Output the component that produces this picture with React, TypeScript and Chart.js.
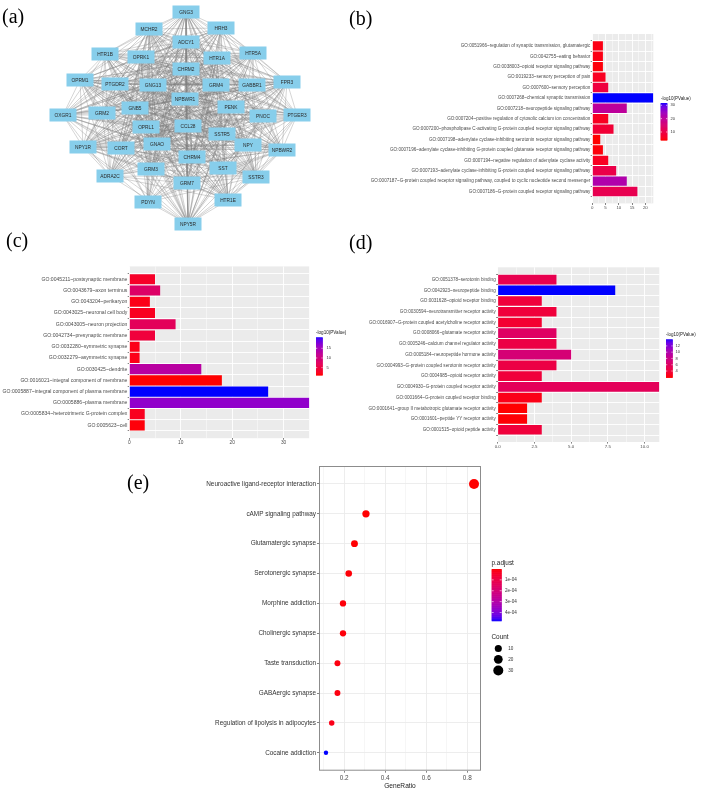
import React, { useEffect, useRef } from "react";
import { Chart, registerables } from "chart.js";
Chart.register(...registerables);

const FONT = "'Liberation Sans', Arial, Helvetica, sans-serif";

// ---------------- (a) network ----------------
const netNodes = ["GNG3","MCHR2","HRH3","ADCY1","HTR1B","OPRK1","HTR1A","HTR5A","CHRM2","OPRM1","PTGDR2","GNG13","GRM4","GABBR1","FPR3","NPBWR1","OXGR1","GRM2","GNB5","PENK","PNOC","PTGER3","OPRL1","CCL28","SSTR5","NPY1R","CORT","GNAO","NPY","NPBWR2","CHRM4","GRM3","SST","ADRA2C","SSTR3","GRM7","PDYN","HTR1E","NPY5R"];
const netX = [186,149,221,186,105,141,217,253,186,80,115,153,216,252,287,185,63,102,135,231,263,297,146,188,222,83,121,157,248,282,192,151,223,110,256,187,148,228,188];
const netY = [12,29,28,42,54,57,58,53,69,80,84,85,85,85,82,99,115,113,108,107,116,115,127,126,134,147,148,144,145,150,157,169,168,176,177,183,202,200,224];
const netGroupPeptide = ["OPRM1","OPRK1","OPRL1","PENK","PDYN","PNOC","NPY","NPY1R","NPY5R","SST","SSTR3","SSTR5","CORT","NPBWR1","NPBWR2","MCHR2","CCL28","FPR3","GNAO","GNB5","GNG3","GNG13","ADCY1"];
const netGroupAmine = ["HTR1A","HTR1B","HTR1E","HTR5A","HRH3","CHRM2","CHRM4","ADRA2C","GRM2","GRM3","GRM4","GRM7","GABBR1","PTGDR2","PTGER3","OXGR1","GNAO","GNB5","GNG3","GNG13","ADCY1"];
const netGroupGi = ["OPRM1","OPRK1","OPRL1","NPY1R","NPY5R","SSTR3","SSTR5","NPBWR1","NPBWR2","HTR1A","HTR1B","HTR1E","HTR5A","HRH3","CHRM2","CHRM4","ADRA2C","GRM2","GRM3","GRM4","GRM7","GABBR1","PTGER3","MCHR2","FPR3","OXGR1","PTGDR2"];
const netGroups = [netGroupPeptide, netGroupAmine, netGroupGi];

// ---------------- (b) biological process ----------------
const bTerms = [
  "GO:0051966~regulation of synaptic transmission, glutamatergic",
  "GO:0042755~eating behavior",
  "GO:0038003~opioid receptor signaling pathway",
  "GO:0019233~sensory perception of pain",
  "GO:0007600~sensory perception",
  "GO:0007268~chemical synaptic transmission",
  "GO:0007218~neuropeptide signaling pathway",
  "GO:0007204~positive regulation of cytosolic calcium ion concentration",
  "GO:0007200~phospholipase C-activating G-protein coupled receptor signaling pathway",
  "GO:0007198~adenylate cyclase-inhibiting serotonin receptor signaling pathway",
  "GO:0007196~adenylate cyclase-inhibiting G-protein coupled glutamate receptor signaling pathway",
  "GO:0007194~negative regulation of adenylate cyclase activity",
  "GO:0007193~adenylate cyclase-inhibiting G-protein coupled receptor signaling pathway",
  "GO:0007187~G-protein coupled receptor signaling pathway, coupled to cyclic nucleotide second messenger",
  "GO:0007186~G-protein coupled receptor signaling pathway",
];
const bCounts = [4,4,4,5,6,23,13,6,8,3,4,6,9,13,17];
const bLogP = [5,5,4.5,6,9,31.7,20,6,8,4,4.5,6,10,22,11];
const bMajorTicks = [0,5,10,15,20];
const bMinorTicks = [2.5,7.5,12.5,17.5,22.5];
const bLegendTicks = [10,20,30];

// ---------------- (c) cellular component ----------------
const cTerms = [
  "GO:0045211~postsynaptic membrane",
  "GO:0043679~axon terminus",
  "GO:0043204~perikaryon",
  "GO:0043025~neuronal cell body",
  "GO:0043005~neuron projection",
  "GO:0042734~presynaptic membrane",
  "GO:0032280~symmetric synapse",
  "GO:0032279~asymmetric synapse",
  "GO:0030425~dendrite",
  "GO:0016021~integral component of membrane",
  "GO:0005887~integral component of plasma membrane",
  "GO:0005886~plasma membrane",
  "GO:0005834~heterotrimeric G-protein complex",
  "GO:0005623~cell",
];
const cCounts = [5,6,4,5,9,5,2,2,14,18,27,35,3,3];
const cLogP = [3,8,2,2.5,7,4.5,2,2,13,1.2,20.7,16.5,2.5,1.5];
const cMajorTicks = [0,10,20,30];
const cMinorTicks = [5,15,25,35];
const cLegendTicks = [5,10,15];

// ---------------- (d) molecular function ----------------
const dTerms = [
  "GO:0051378~serotonin binding",
  "GO:0042923~neuropeptide binding",
  "GO:0031628~opioid receptor binding",
  "GO:0030594~neurotransmitter receptor activity",
  "GO:0016907~G-protein coupled acetylcholine receptor activity",
  "GO:0008066~glutamate receptor activity",
  "GO:0005246~calcium channel regulator activity",
  "GO:0005184~neuropeptide hormone activity",
  "GO:0004993~G-protein coupled serotonin receptor activity",
  "GO:0004985~opioid receptor activity",
  "GO:0004930~G-protein coupled receptor activity",
  "GO:0001664~G-protein coupled receptor binding",
  "GO:0001641~group II metabotropic glutamate receptor activity",
  "GO:0001601~peptide YY receptor activity",
  "GO:0001515~opioid peptide activity",
];
const dCounts = [4,8,3,4,3,4,4,5,4,3,11,3,2,2,3];
const dLogP = [5,14.1,4,4,3.5,6,4.5,7,4.5,4,5.5,2.5,2,2.1,4];
const dMajorTicks = [0,2.5,5,7.5,10];
const dMinorTicks = [1.25,3.75,6.25,8.75];
const dLegendTicks = [4,6,8,10,12];

// ---------------- (e) KEGG dot plot ----------------
const eTerms = [
  "Neuroactive ligand-receptor interaction",
  "cAMP signaling pathway",
  "Glutamatergic synapse",
  "Serotonergic synapse",
  "Morphine addiction",
  "Cholinergic synapse",
  "Taste transduction",
  "GABAergic synapse",
  "Regulation of lipolysis in adipocytes",
  "Cocaine addiction",
];
const eGeneRatio = [0.833,0.306,0.25,0.222,0.194,0.194,0.167,0.167,0.139,0.111];
const eCount = [30,11,9,8,7,7,6,6,5,4];
const ePAdjust = [3.2e-19,1.5e-6,2.4e-6,5e-6,8e-6,8e-6,1.2e-5,1.2e-5,2.1e-5,4.75e-4];
const eMajorTicks = [0.2,0.4,0.6,0.8];
const eMinorTicks = [0.1,0.3,0.5,0.7];
const ePAdjTicks = [1e-4,2e-4,3e-4,4e-4];
const ePAdjTickLabels = ["1e-04","2e-04","3e-04","4e-04"];
const eCountLegend = [10,20,30];

// ---------------- colour ramp (CIELAB, red -> blue) ----------------
function toLin(c: number) { const v = c / 255; return v <= 0.04045 ? v / 12.92 : Math.pow((v + 0.055) / 1.055, 2.4); }
function fromLin(v: number) { const c = v <= 0.0031308 ? 12.92 * v : 1.055 * Math.pow(Math.max(v, 0), 1 / 2.4) - 0.055; return Math.round(Math.max(0, Math.min(1, c)) * 255); }
const WX = 0.95047, WZ = 1.08883;
function fLab(t: number) { return t > 0.008856 ? Math.cbrt(t) : 7.787 * t + 16 / 116; }
function fInv(t: number) { const t3 = t * t * t; return t3 > 0.008856 ? t3 : (t - 16 / 116) / 7.787; }
function rgb2lab(rgb: number[]) {
  const R = toLin(rgb[0]), G = toLin(rgb[1]), B = toLin(rgb[2]);
  const X = 0.4124564 * R + 0.3575761 * G + 0.1804375 * B;
  const Y = 0.2126729 * R + 0.7151522 * G + 0.072175 * B;
  const Z = 0.0193339 * R + 0.119192 * G + 0.9503041 * B;
  const fx = fLab(X / WX), fy = fLab(Y), fz = fLab(Z / WZ);
  return [116 * fy - 16, 500 * (fx - fy), 200 * (fy - fz)];
}
function lab2rgb(lab: number[]) {
  const fy = (lab[0] + 16) / 116, fx = fy + lab[1] / 500, fz = fy - lab[2] / 200;
  const X = WX * fInv(fx), Y = fInv(fy), Z = WZ * fInv(fz);
  const R = 3.2404542 * X - 1.5371385 * Y - 0.4985314 * Z;
  const G = -0.969266 * X + 1.8760108 * Y + 0.041556 * Z;
  const B = 0.0556434 * X - 0.2040259 * Y + 1.0572252 * Z;
  return [fromLin(R), fromLin(G), fromLin(B)];
}
const LAB_LO = rgb2lab([255, 0, 0]);
const LAB_HI = rgb2lab([0, 0, 255]);
function ramp(t: number) {
  const u = Math.max(0, Math.min(1, t));
  const c = lab2rgb([0, 1, 2].map((k) => LAB_LO[k] + (LAB_HI[k] - LAB_LO[k]) * u));
  return `rgb(${c[0]},${c[1]},${c[2]})`;
}
function drawColorbar(ctx: CanvasRenderingContext2D, x: number, top: number, w: number, h: number, topIsHigh: boolean) {
  const n = 80;
  for (let i = 0; i < n; i++) {
    const t = (i + 0.5) / n;
    ctx.fillStyle = ramp(topIsHigh ? 1 - t : t);
    ctx.fillRect(x, top + (h * i) / n, w, h / n + 0.6);
  }
}

type Rect = { x: number; y: number; w: number; h: number };
type Area = { l: number; t: number; r: number; b: number };

function ChartCanvas({ rect, make }: { rect: Rect; make: () => any }) {
  const ref = useRef<HTMLCanvasElement>(null);
  useEffect(() => {
    const chart = new Chart(ref.current as HTMLCanvasElement, make());
    return () => chart.destroy();
  }, []);
  return (
    <canvas
      ref={ref}
      width={rect.w}
      height={rect.h}
      style={{ position: "absolute", left: rect.x, top: rect.y, width: rect.w, height: rect.h }}
    />
  );
}

// ---------------- bar chart builder ----------------
type BarSpec = {
  cv: Rect; area: Area; terms: string[]; counts: number[]; logp: number[]; xMax: number;
  major: number[]; minor: number[]; fmt: (v: number) => string; yFont: number; xFont: number;
  legend: { titleX: number; titleY: number; barX: number; barTop: number; barBottom: number; barW: number; labelX: number; ticks: number[]; titleFont: number; labelFont: number };
};

function makeBar(spec: BarSpec) {
  const { cv, area } = spec;
  const lo = Math.min(...spec.logp), hi = Math.max(...spec.logp);
  const n = spec.terms.length;
  const allTicks = [...spec.major, ...spec.minor].filter((v) => v <= spec.xMax).sort((a, b) => a - b);
  const isMajor = (v: number) => spec.major.includes(v);
  const bg = {
    id: "bg",
    beforeDraw(chart: any) {
      const ca = chart.chartArea;
      const ctx = chart.ctx;
      ctx.save();
      ctx.fillStyle = "#EBEBEB";
      ctx.fillRect(ca.left, ca.top, ca.right - ca.left, ca.bottom - ca.top);
      ctx.restore();
    },
  };
  const legend = {
    id: "cbar",
    afterDraw(chart: any) {
      const ctx: CanvasRenderingContext2D = chart.ctx;
      const L = spec.legend;
      const ox = cv.x, oy = cv.y;
      ctx.save();
      ctx.textBaseline = "middle";
      ctx.textAlign = "left";
      ctx.fillStyle = "#222";
      ctx.font = `${L.titleFont}px ${FONT}`;
      ctx.fillText("-log10(PValue)", L.titleX - ox, L.titleY - oy);
      const h = L.barBottom - L.barTop;
      drawColorbar(ctx, L.barX - ox, L.barTop - oy, L.barW, h, true);
      ctx.font = `${L.labelFont}px ${FONT}`;
      ctx.fillStyle = "#333";
      ctx.strokeStyle = "#fff";
      ctx.lineWidth = 0.6;
      for (const t of L.ticks) {
        const y = L.barBottom - ((t - lo) / (hi - lo)) * h - oy;
        ctx.fillText(String(t), L.labelX - ox, y);
        ctx.beginPath();
        ctx.moveTo(L.barX - ox, y); ctx.lineTo(L.barX - ox + 1.3, y);
        ctx.moveTo(L.barX - ox + L.barW - 1.3, y); ctx.lineTo(L.barX - ox + L.barW, y);
        ctx.stroke();
      }
      ctx.restore();
    },
  };
  return {
    type: "bar",
    data: {
      datasets: [
        {
          data: spec.counts.map((v, i) => ({ x: v, y: i + 1 })),
          backgroundColor: spec.logp.map((v) => ramp((v - lo) / (hi - lo))),
          borderWidth: 0,
          categoryPercentage: 0.9,
          barPercentage: 1,
        },
      ],
    },
    options: {
      indexAxis: "y",
      animation: false,
      responsive: false,
      maintainAspectRatio: false,
      devicePixelRatio: 1,
      events: [],
      layout: { padding: { top: area.t - cv.y, right: cv.x + cv.w - area.r, left: 0, bottom: 0 } },
      plugins: { legend: { display: false }, tooltip: { enabled: false } },
      scales: {
        x: {
          type: "linear",
          min: 0,
          max: spec.xMax,
          afterBuildTicks: (s: any) => { s.ticks = allTicks.map((v) => ({ value: v })); },
          afterFit: (s: any) => { s.height = cv.y + cv.h - area.b; },
          ticks: {
            autoSkip: false, maxRotation: 0, padding: 0.3,
            font: { size: spec.xFont, family: FONT }, color: "#4D4D4D",
            callback: (v: number) => (isMajor(v) ? spec.fmt(v) : ""),
          },
          grid: {
            color: "#FFFFFF",
            lineWidth: (c: any) => (c.tick && isMajor(c.tick.value) ? 0.9 : 0.45),
            tickLength: 1.6,
            tickColor: (c: any) => (c.tick && isMajor(c.tick.value) ? "#333333" : "rgba(0,0,0,0)"),
            tickWidth: 0.6,
          },
          border: { display: false },
        },
        y: {
          type: "linear",
          min: 0.4,
          max: n + 0.6,
          reverse: true,
          afterBuildTicks: (s: any) => { s.ticks = spec.terms.map((_, i) => ({ value: i + 1 })); },
          afterFit: (s: any) => { s.width = area.l - cv.x; },
          ticks: {
            autoSkip: false, padding: 0.4,
            font: { size: spec.yFont, family: FONT }, color: "#4D4D4D",
            callback: (v: number) => spec.terms[Math.round(v) - 1] ?? "",
          },
          grid: { color: "#FFFFFF", lineWidth: 0.9, tickLength: 1.6, tickColor: "#333333", tickWidth: 0.6 },
          border: { display: false },
        },
      },
    },
    plugins: [bg, legend],
  };
}

// ---------------- (a) network config ----------------
const NET_CV: Rect = { x: 0, y: 0, w: 350, h: 240 };
function makeNetwork() {
  const idx: Record<string, number> = {};
  netNodes.forEach((n, i) => (idx[n] = i));
  const seen = new Set<string>();
  const pts: any[] = [];
  for (const g of netGroups) {
    for (let i = 0; i < g.length; i++) {
      for (let j = i + 1; j < g.length; j++) {
        const a = idx[g[i]], b = idx[g[j]];
        const key = a < b ? `${a}-${b}` : `${b}-${a}`;
        if (seen.has(key)) continue;
        seen.add(key);
        pts.push({ x: netX[a], y: netY[a] }, { x: netX[b], y: netY[b] }, { x: netX[b], y: null });
      }
    }
  }
  const nodePlugin = {
    id: "nodes",
    afterDatasetsDraw(chart: any) {
      const meta = chart.getDatasetMeta(1);
      const ctx: CanvasRenderingContext2D = chart.ctx;
      ctx.save();
      ctx.textAlign = "center";
      ctx.textBaseline = "middle";
      ctx.font = `4.8px ${FONT}`;
      meta.data.forEach((p: any, i: number) => {
        const w = 27, h = 13;
        ctx.fillStyle = "#87CEEB";
        ctx.fillRect(p.x - w / 2, p.y - h / 2, w, h);
        ctx.fillStyle = "#2A2A2A";
        ctx.fillText(netNodes[i], p.x, p.y + 0.3);
      });
      ctx.restore();
    },
  };
  return {
    type: "scatter",
    data: {
      datasets: [
        { data: pts, showLine: true, spanGaps: false, borderColor: "rgba(125,125,125,0.55)", borderWidth: 0.6, pointRadius: 0 },
        { data: netNodes.map((_, i) => ({ x: netX[i], y: netY[i] })), pointRadius: 0, showLine: false },
      ],
    },
    options: {
      animation: false, responsive: false, maintainAspectRatio: false, devicePixelRatio: 1, events: [],
      layout: { padding: 0 },
      plugins: { legend: { display: false }, tooltip: { enabled: false } },
      scales: {
        x: { type: "linear", display: false, min: 0, max: NET_CV.w },
        y: { type: "linear", display: false, min: 0, max: NET_CV.h, reverse: true },
      },
    },
    plugins: [nodePlugin],
  };
}

// ---------------- (e) dot plot config ----------------
const E_CV: Rect = { x: 130, y: 460, w: 573, h: 335 };
const E_AREA: Area = { l: 319, t: 466, r: 481, b: 770.7 };
function countRadius(c: number) {
  const cmin = Math.min(...eCount), cmax = Math.max(...eCount);
  return 2.2 + 2.8 * Math.sqrt(Math.max(0, (c - cmin) / (cmax - cmin)));
}
function makeDot() {
  const lo = 0, hi = Math.max(...ePAdjust);
  const allTicks = [...eMajorTicks, ...eMinorTicks].sort((a, b) => a - b);
  const isMajor = (v: number) => eMajorTicks.some((m) => Math.abs(m - v) < 1e-9);
  const frame = {
    id: "frame",
    afterDraw(chart: any) {
      const ca = chart.chartArea;
      const ctx: CanvasRenderingContext2D = chart.ctx;
      ctx.save();
      ctx.strokeStyle = "#8C8C8C";
      ctx.lineWidth = 1;
      ctx.strokeRect(ca.left + 0.5, ca.top + 0.5, ca.right - ca.left - 1, ca.bottom - ca.top - 1);
      // legends
      const ox = E_CV.x, oy = E_CV.y;
      ctx.textAlign = "left";
      ctx.textBaseline = "middle";
      ctx.fillStyle = "#222";
      ctx.font = `6.4px ${FONT}`;
      ctx.fillText("p.adjust", 491.5 - ox, 562.8 - oy);
      const top = 569, bot = 620.7, bx = 491.7, bw = 10;
      drawColorbar(ctx, bx - ox, top - oy, bw, bot - top, false);
      ctx.font = `4.6px ${FONT}`;
      ctx.fillStyle = "#333";
      ctx.strokeStyle = "#fff";
      ctx.lineWidth = 0.6;
      ePAdjTicks.forEach((t, i) => {
        const y = top + ((t - lo) / (hi - lo)) * (bot - top) - oy;
        ctx.fillText(ePAdjTickLabels[i], 505 - ox, y);
        ctx.beginPath();
        ctx.moveTo(bx - ox, y); ctx.lineTo(bx - ox + 2, y);
        ctx.moveTo(bx - ox + bw - 2, y); ctx.lineTo(bx - ox + bw, y);
        ctx.stroke();
      });
      ctx.font = `6.4px ${FONT}`;
      ctx.fillStyle = "#222";
      ctx.fillText("Count", 491.5 - ox, 637.5 - oy);
      const ys = [648.5, 659.3, 670.5];
      eCountLegend.forEach((c, i) => {
        ctx.fillStyle = "#000";
        ctx.beginPath();
        ctx.arc(498.3 - ox, ys[i] - oy, countRadius(c), 0, Math.PI * 2);
        ctx.fill();
        ctx.fillStyle = "#333";
        ctx.font = `4.6px ${FONT}`;
        ctx.fillText(String(c), 508.3 - ox, ys[i] - oy);
      });
      ctx.restore();
    },
  };
  return {
    type: "scatter",
    data: {
      datasets: [
        {
          data: eGeneRatio.map((x, i) => ({ x, y: i + 1 })),
          pointRadius: eCount.map(countRadius),
          pointBackgroundColor: ePAdjust.map((p) => ramp((p - lo) / (hi - lo))),
          pointBorderWidth: 0,
          clip: false,
        },
      ],
    },
    options: {
      animation: false, responsive: false, maintainAspectRatio: false, devicePixelRatio: 1, events: [],
      layout: { padding: { top: E_AREA.t - E_CV.y, right: E_CV.x + E_CV.w - E_AREA.r, left: 0, bottom: 0 } },
      plugins: { legend: { display: false }, tooltip: { enabled: false } },
      scales: {
        x: {
          type: "linear", min: 0.077, max: 0.867,
          afterBuildTicks: (s: any) => { s.ticks = allTicks.map((v) => ({ value: v })); },
          afterFit: (s: any) => { s.height = E_CV.y + E_CV.h - E_AREA.b; },
          ticks: {
            autoSkip: false, maxRotation: 0, padding: 1.2,
            font: { size: 6.4, family: FONT }, color: "#4D4D4D",
            callback: (v: number) => (isMajor(v) ? v.toFixed(1) : ""),
          },
          grid: {
            color: "#EBEBEB",
            lineWidth: (c: any) => (c.tick && isMajor(c.tick.value) ? 0.9 : 0.45),
            tickLength: 2,
            tickColor: (c: any) => (c.tick && isMajor(c.tick.value) ? "#333333" : "rgba(0,0,0,0)"),
            tickWidth: 0.6,
          },
          border: { display: false },
          title: { display: true, text: "GeneRatio", color: "#222", font: { size: 6.6, family: FONT }, padding: { top: 0, bottom: 5.2 } },
        },
        y: {
          type: "linear", min: 0.4, max: eTerms.length + 0.6, reverse: true,
          afterBuildTicks: (s: any) => { s.ticks = eTerms.map((_, i) => ({ value: i + 1 })); },
          afterFit: (s: any) => { s.width = E_AREA.l - E_CV.x; },
          ticks: {
            autoSkip: false, padding: 1,
            font: { size: 6.4, family: FONT }, color: "#333333",
            callback: (v: number) => eTerms[Math.round(v) - 1] ?? "",
          },
          grid: { color: "#EBEBEB", lineWidth: 0.9, tickLength: 2, tickColor: "#333333", tickWidth: 0.6 },
          border: { display: false },
        },
      },
    },
    plugins: [frame],
  };
}

// ---------------- specs ----------------
const B_SPEC: BarSpec = {
  cv: { x: 340, y: 28, w: 363, h: 187 },
  area: { l: 592.3, t: 34, r: 653.3, b: 203.4 },
  terms: bTerms, counts: bCounts, logp: bLogP, xMax: 23,
  major: bMajorTicks, minor: bMinorTicks, fmt: (v) => String(v), yFont: 4.6, xFont: 4.4,
  legend: { titleX: 661, titleY: 99, barX: 660.7, barTop: 103, barBottom: 140, barW: 6.6, labelX: 670.5, ticks: bLegendTicks, titleFont: 4.5, labelFont: 4 },
};
const C_SPEC: BarSpec = {
  cv: { x: 0, y: 260, w: 350, h: 190 },
  area: { l: 129.3, t: 266.4, r: 309.3, b: 438.2 },
  terms: cTerms, counts: cCounts, logp: cLogP, xMax: 35,
  major: cMajorTicks, minor: cMinorTicks, fmt: (v) => String(v), yFont: 5.1, xFont: 4.8,
  legend: { titleX: 316, titleY: 332.3, barX: 316, barTop: 337.3, barBottom: 375, barW: 6.7, labelX: 326.5, ticks: cLegendTicks, titleFont: 4.6, labelFont: 4 },
};
const D_SPEC: BarSpec = {
  cv: { x: 350, y: 260, w: 353, h: 195 },
  area: { l: 497.7, t: 267.3, r: 659.3, b: 442 },
  terms: dTerms, counts: dCounts, logp: dLogP, xMax: 11,
  major: dMajorTicks, minor: dMinorTicks, fmt: (v) => v.toFixed(1), yFont: 4.6, xFont: 4.4,
  legend: { titleX: 666, titleY: 334.3, barX: 666, barTop: 339.3, barBottom: 377.3, barW: 6.7, labelX: 675.5, ticks: dLegendTicks, titleFont: 4.5, labelFont: 4 },
};

const panelLabel = (text: string, left: number, top: number) => (
  <div
    style={{
      position: "absolute", left, top, fontFamily: "'Liberation Serif', 'Times New Roman', serif",
      fontSize: 20, lineHeight: "20px", color: "#000", whiteSpace: "nowrap",
    }}
  >
    {text}
  </div>
);

export default function App() {
  return (
    <div style={{ position: "absolute", left: 0, top: 0, width: 703, height: 795, background: "#fff", overflow: "hidden" }}>
      <ChartCanvas rect={NET_CV} make={makeNetwork} />
      <ChartCanvas rect={B_SPEC.cv} make={() => makeBar(B_SPEC)} />
      <ChartCanvas rect={C_SPEC.cv} make={() => makeBar(C_SPEC)} />
      <ChartCanvas rect={D_SPEC.cv} make={() => makeBar(D_SPEC)} />
      <ChartCanvas rect={E_CV} make={makeDot} />
      {panelLabel("(a)", 2, 6)}
      {panelLabel("(b)", 349, 7.5)}
      {panelLabel("(c)", 6, 230)}
      {panelLabel("(d)", 349, 232)}
      {panelLabel("(e)", 127, 472)}
    </div>
  );
}
